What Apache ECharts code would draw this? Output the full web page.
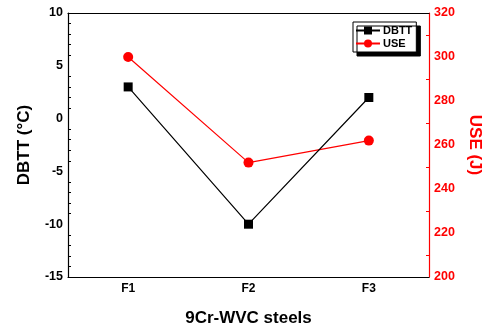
<!DOCTYPE html>
<html>
<head>
<meta charset="utf-8">
<script src="https://cdn.jsdelivr.net/npm/echarts@6/dist/echarts.min.js"></script>
<style>
  html, body { margin: 0; padding: 0; background: #fff; }
  #chart { width: 483px; height: 327px; }
</style>
</head>
<body>
<div id="chart"></div>
<script>
// steels on the x axis
const steels = ["F1", "F2", "F3"];
// ductile-brittle transition temperature, °C
const dbtt = [3, -10, 2];
// upper shelf energy, J
const use = [300, 252, 262];

const font = "'Liberation Sans', Arial, sans-serif";
const red = "#ff0000";

const chart = echarts.init(document.getElementById("chart"));

chart.setOption({
  animation: false,
  grid: { left: 68, right: 54, top: 13, bottom: 50, outerBoundsMode: "none", containLabel: false },
  legend: {
    orient: "vertical",
    left: 353,
    top: 22,
    padding: [3, 4, 3, 2],
    itemGap: 2,
    itemWidth: 24,
    itemHeight: 10,
    backgroundColor: "#fff",
    borderColor: "#000",
    borderWidth: 1,
    borderRadius: 0,
    shadowColor: "#000",
    shadowOffsetX: 4,
    shadowOffsetY: 4,
    shadowBlur: 0,
    textStyle: { fontFamily: font, fontWeight: "bold", fontSize: 11, color: "#000", padding: [0, 0, 0, -2] },
    data: ["DBTT", "USE"],
  },
  xAxis: [
    {
      type: "category",
      data: steels,
      boundaryGap: true,
      name: "9Cr-WVC steels",
      nameLocation: "middle",
      nameGap: 33,
      nameTextStyle: { fontFamily: font, fontWeight: "bold", fontSize: 17, color: "#000" },
      axisLine: { onZero: false, lineStyle: { color: "#000", width: 1.2 } },
      axisTick: { alignWithLabel: true, inside: true, length: 5, lineStyle: { color: "#000" } },
      axisLabel: { fontFamily: font, fontWeight: "bold", fontSize: 12, color: "#000", margin: 6 },
    },
    {
      type: "category",
      data: steels,
      position: "top",
      boundaryGap: true,
      axisLine: { onZero: false, lineStyle: { color: "#000", width: 1.2 } },
      axisTick: { alignWithLabel: true, inside: true, length: 5, lineStyle: { color: "#000" } },
      axisLabel: { show: false },
    },
  ],
  yAxis: [
    {
      type: "value",
      min: -15,
      max: 10,
      interval: 5,
      name: "DBTT (°C)",
      nameLocation: "middle",
      nameGap: 35,
      nameTextStyle: { fontFamily: font, fontWeight: "bold", fontSize: 17, color: "#000" },
      axisLine: { show: true, lineStyle: { color: "#000", width: 1.2 } },
      axisTick: { inside: true, length: 5, lineStyle: { color: "#000" } },
      minorTick: { show: true, splitNumber: 5, length: 3, lineStyle: { color: "#000" } },
      splitLine: { show: false },
      axisLabel: { fontFamily: font, fontWeight: "bold", fontSize: 12.5, color: "#000", margin: 5 },
    },
    {
      type: "value",
      position: "right",
      min: 200,
      max: 320,
      interval: 20,
      name: "USE (J)",
      nameLocation: "middle",
      nameGap: 33,
      nameRotate: -90,
      nameTextStyle: { fontFamily: font, fontWeight: "bold", fontSize: 17, color: red },
      axisLine: { show: true, lineStyle: { color: red, width: 1.2 } },
      axisTick: { inside: true, length: 5, lineStyle: { color: red } },
      minorTick: { show: true, splitNumber: 2, length: 3, lineStyle: { color: red } },
      splitLine: { show: false },
      axisLabel: { fontFamily: font, fontWeight: "bold", fontSize: 12.5, color: red, margin: 5 },
    },
  ],
  series: [
    {
      name: "DBTT",
      type: "line",
      xAxisIndex: 0,
      yAxisIndex: 0,
      data: dbtt,
      symbol: "rect",
      symbolSize: 9,
      itemStyle: { color: "#000" },
      lineStyle: { color: "#000", width: 1.2 },
      z: 3,
    },
    {
      name: "USE",
      type: "line",
      xAxisIndex: 0,
      yAxisIndex: 1,
      data: use,
      symbol: "circle",
      symbolSize: 10,
      itemStyle: { color: red },
      lineStyle: { color: red, width: 1.2 },
      z: 2,
    },
  ],
});
</script>
</body>
</html>
